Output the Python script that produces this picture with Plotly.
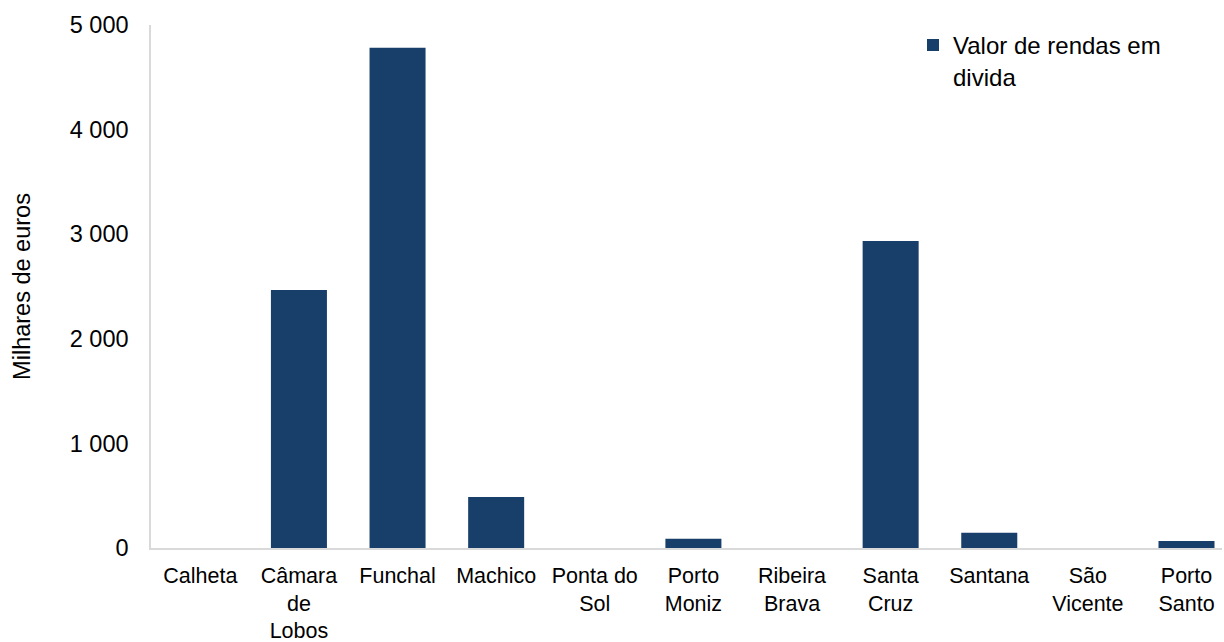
import plotly.graph_objects as go

categories = ["Calheta", "Câmara<br>de<br>Lobos", "Funchal", "Machico", "Ponta do<br>Sol",
              "Porto<br>Moniz", "Ribeira<br>Brava", "Santa<br>Cruz", "Santana",
              "São<br>Vicente", "Porto<br>Santo"]
valores = [0, 2466, 4782, 488, 0, 89, 0, 2935, 146, 0, 67]
series_name = "Valor de rendas em<br>divida"
y_title = "Milhares de euros"
y_ticks = [0, 1000, 2000, 3000, 4000, 5000]

FONT = "Liberation Sans, Arial, sans-serif"
BAR = "#183E6A"
AXIS = "#D9D9D9"

fig = go.Figure()
fig.add_trace(go.Bar(x=categories, y=valores, name=series_name,
                     marker=dict(color=BAR, line=dict(width=0)),
                     showlegend=True))

fig.update_layout(
    width=1224, height=642,
    margin=dict(l=151, r=2, t=25.3, b=93.7, autoexpand=False),
    paper_bgcolor="white", plot_bgcolor="white",
    font=dict(family=FONT, size=23, color="#000000"),
    separators=", ",
    bargap=0.432,
    showlegend=True,
    legend=dict(x=0.7115, y=1.004, xanchor="left", yanchor="top",
                bgcolor="rgba(0,0,0,0)", valign="top",
                font=dict(family=FONT, size=24, color="#000000")),
    xaxis=dict(showline=True, linecolor=AXIS, linewidth=1.5, automargin=False,
               range=[-0.5, 10.36],
               showgrid=False, ticks="outside", ticklen=7,
               tickcolor="rgba(0,0,0,0)", tickangle=0,
               tickfont=dict(family=FONT, size=21.5, color="#000000")),
    yaxis=dict(range=[0, 5000], tickvals=y_ticks, tickformat=",d", automargin=False,
               showline=True, linecolor=AXIS, linewidth=1.5,
               showgrid=False, zeroline=False, ticks="outside", ticklen=16,
               tickcolor="rgba(0,0,0,0)",
               tickfont=dict(family=FONT, size=23.5, color="#000000"),
               title=dict(text=y_title, standoff=33,
                          font=dict(family=FONT, size=23.5, color="#000000"))),
)

fig.write_html("out.html", config={"displayModeBar": False},
               post_script="document.body.style.margin='0';document.body.style.overflow='hidden';")
